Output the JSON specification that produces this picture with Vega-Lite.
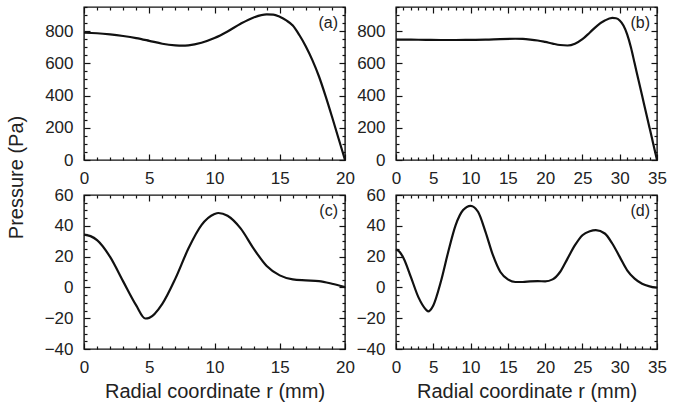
{
  "$schema": "https://vega.github.io/schema/vega-lite/v6.json",
  "background": "white",
  "padding": 5,
  "bounds": "flush",
  "columns": 2,
  "spacing": {"row": 35, "column": 51},
  "config": {
    "view": {"stroke": "#111", "strokeWidth": 1.4},
    "font": "Liberation Sans",
    "axis": {
      "domain": false, "grid": false,
      "tickColor": "#111", "tickWidth": 1.2,
      "labelFont": "Liberation Sans", "labelFontSize": 17, "labelColor": "#222",
      "labelOverlap": false, "labelFlush": false,
      "titleFont": "Liberation Sans", "titleFontSize": 20, "titleFontWeight": "normal", "titleColor": "#222"
    },
    "text": {"font": "Liberation Sans", "fontSize": 16, "color": "#222"}
  },
  "concat": [
    {
      "width": 261, "height": 153,
      "data": {"values": [
        {"r":0,"p":790},{"r":1,"p":787},{"r":2,"p":780},{"r":3,"p":770},{"r":4,"p":757},{"r":5,"p":740},{"r":6,"p":722},{"r":7,"p":712},{"r":7.5,"p":710},{"r":8,"p":712},{"r":9,"p":728},{"r":10,"p":757},{"r":11,"p":798},{"r":12,"p":846},{"r":13,"p":885},{"r":14,"p":904},{"r":14.5,"p":903},{"r":15,"p":889},{"r":15.5,"p":867},{"r":16,"p":835},{"r":16.5,"p":776},{"r":17,"p":705},{"r":17.5,"p":620},{"r":18,"p":520},{"r":18.5,"p":400},{"r":19,"p":270},{"r":19.5,"p":135},{"r":20,"p":0}
      ]},
      "layer": [
        {
          "mark": {"type": "line", "interpolate": "monotone", "color": "#111", "strokeWidth": 2.2},
          "encoding": {
            "x": {"field": "r", "type": "quantitative", "scale": {"domain": [0, 20], "nice": false},
              "axis": {"orient": "bottom", "title": null, "values": [0,5,10,15,20], "offset": -6, "tickSize": 6, "labelPadding": 10}},
            "y": {"field": "p", "type": "quantitative", "scale": {"domain": [0, 950], "nice": false},
              "axis": {"orient": "left", "title": "Pressure (Pa)", "titleY": 170, "titlePadding": 18,
                "values": [0,200,400,600,800], "offset": -6, "tickSize": 6, "labelPadding": 11}}
          }
        },
        {
          "mark": {"type": "line", "opacity": 0},
          "encoding": {
            "x": {"field": "r", "type": "quantitative",
              "axis": {"orient": "top", "title": null, "labels": false, "values": [0,5,10,15,20], "offset": -6, "tickSize": 6}},
            "y": {"field": "p", "type": "quantitative",
              "axis": {"orient": "right", "title": null, "labels": false, "values": [0,200,400,600,800], "offset": -6, "tickSize": 6}}
          }
        },
        {
          "mark": {"type": "line", "opacity": 0},
          "encoding": {
            "x": {"field": "r", "type": "quantitative",
              "axis": {"orient": "bottom", "title": null, "labels": false, "values": [1,2,3,4,6,7,8,9,11,12,13,14,16,17,18,19], "offset": -3, "tickSize": 3}},
            "y": {"field": "p", "type": "quantitative",
              "axis": {"orient": "left", "title": null, "labels": false, "values": [50,100,150,250,300,350,450,500,550,650,700,750,850,900,950], "offset": -3, "tickSize": 3}}
          }
        },
        {
          "mark": {"type": "line", "opacity": 0},
          "encoding": {
            "x": {"field": "r", "type": "quantitative",
              "axis": {"orient": "top", "title": null, "labels": false, "values": [1,2,3,4,6,7,8,9,11,12,13,14,16,17,18,19], "offset": -3, "tickSize": 3}},
            "y": {"field": "p", "type": "quantitative",
              "axis": {"orient": "right", "title": null, "labels": false, "values": [50,100,150,250,300,350,450,500,550,650,700,750,850,900,950], "offset": -3, "tickSize": 3}}
          }
        },
        {
          "data": {"values": [{}]},
          "mark": {"type": "text", "align": "right", "baseline": "top", "dx": -7, "dy": 8},
          "encoding": {"x": {"datum": 20, "type": "quantitative", "axis": null}, "y": {"datum": 950, "type": "quantitative", "axis": null}, "text": {"value": "(a)"}}
        }
      ],
      "resolve": {"axis": {"x": "independent", "y": "independent"}}
    },
    {
      "width": 261, "height": 153,
      "data": {"values": [
        {"r":0,"p":748},{"r":2,"p":747},{"r":4,"p":746},{"r":6,"p":745},{"r":8,"p":745},{"r":10,"p":746},{"r":12,"p":747},{"r":14,"p":751},{"r":16,"p":753},{"r":17,"p":752},{"r":18,"p":748},{"r":19,"p":742},{"r":20,"p":733},{"r":21,"p":723},{"r":22,"p":714},{"r":23,"p":711},{"r":24,"p":722},{"r":25,"p":750},{"r":26,"p":792},{"r":27,"p":835},{"r":28,"p":866},{"r":29,"p":882},{"r":29.5,"p":880},{"r":30,"p":866},{"r":30.5,"p":835},{"r":31,"p":780},{"r":31.5,"p":700},{"r":32,"p":600},{"r":32.5,"p":500},{"r":33,"p":400},{"r":33.5,"p":300},{"r":34,"p":200},{"r":34.5,"p":100},{"r":35,"p":0}
      ]},
      "layer": [
        {
          "mark": {"type": "line", "interpolate": "monotone", "color": "#111", "strokeWidth": 2.2},
          "encoding": {
            "x": {"field": "r", "type": "quantitative", "scale": {"domain": [0, 35], "nice": false},
              "axis": {"orient": "bottom", "title": null, "values": [0,5,10,15,20,25,30,35], "offset": -6, "tickSize": 6, "labelPadding": 10}},
            "y": {"field": "p", "type": "quantitative", "scale": {"domain": [0, 950], "nice": false},
              "axis": {"orient": "left", "title": null, "values": [0,200,400,600,800], "offset": -6, "tickSize": 6, "labelPadding": 11}}
          }
        },
        {
          "mark": {"type": "line", "opacity": 0},
          "encoding": {
            "x": {"field": "r", "type": "quantitative",
              "axis": {"orient": "top", "title": null, "labels": false, "values": [0,5,10,15,20,25,30,35], "offset": -6, "tickSize": 6}},
            "y": {"field": "p", "type": "quantitative",
              "axis": {"orient": "right", "title": null, "labels": false, "values": [0,200,400,600,800], "offset": -6, "tickSize": 6}}
          }
        },
        {
          "mark": {"type": "line", "opacity": 0},
          "encoding": {
            "x": {"field": "r", "type": "quantitative",
              "axis": {"orient": "bottom", "title": null, "labels": false, "values": [1,2,3,4,6,7,8,9,11,12,13,14,16,17,18,19,21,22,23,24,26,27,28,29,31,32,33,34], "offset": -3, "tickSize": 3}},
            "y": {"field": "p", "type": "quantitative",
              "axis": {"orient": "left", "title": null, "labels": false, "values": [50,100,150,250,300,350,450,500,550,650,700,750,850,900,950], "offset": -3, "tickSize": 3}}
          }
        },
        {
          "mark": {"type": "line", "opacity": 0},
          "encoding": {
            "x": {"field": "r", "type": "quantitative",
              "axis": {"orient": "top", "title": null, "labels": false, "values": [1,2,3,4,6,7,8,9,11,12,13,14,16,17,18,19,21,22,23,24,26,27,28,29,31,32,33,34], "offset": -3, "tickSize": 3}},
            "y": {"field": "p", "type": "quantitative",
              "axis": {"orient": "right", "title": null, "labels": false, "values": [50,100,150,250,300,350,450,500,550,650,700,750,850,900,950], "offset": -3, "tickSize": 3}}
          }
        },
        {
          "data": {"values": [{}]},
          "mark": {"type": "text", "align": "right", "baseline": "top", "dx": -7, "dy": 8},
          "encoding": {"x": {"datum": 35, "type": "quantitative", "axis": null}, "y": {"datum": 950, "type": "quantitative", "axis": null}, "text": {"value": "(b)"}}
        }
      ],
      "resolve": {"axis": {"x": "independent", "y": "independent"}}
    },
    {
      "width": 261, "height": 154,
      "data": {"values": [
        {"r":0,"p":34.3},{"r":0.5,"p":33.3},{"r":1,"p":30.7},{"r":2,"p":19.8},{"r":3,"p":3.9},{"r":4,"p":-11.7},{"r":4.7,"p":-20.2},{"r":5,"p":-19.8},{"r":6,"p":-10.7},{"r":7,"p":5.7},{"r":8,"p":25.2},{"r":9,"p":40.4},{"r":10,"p":47.6},{"r":10.3,"p":48.3},{"r":11,"p":46.5},{"r":12,"p":38.3},{"r":13,"p":25.2},{"r":14,"p":13.9},{"r":15,"p":7.8},{"r":16,"p":5.2},{"r":17,"p":4.6},{"r":18,"p":4.1},{"r":19,"p":2.4},{"r":20,"p":0.2}
      ]},
      "layer": [
        {
          "mark": {"type": "line", "interpolate": "monotone", "color": "#111", "strokeWidth": 2.2},
          "encoding": {
            "x": {"field": "r", "type": "quantitative", "scale": {"domain": [0, 20], "nice": false},
              "axis": {"orient": "bottom", "title": "Radial coordinate r (mm)", "titlePadding": 6, "values": [0,5,10,15,20], "offset": -6, "tickSize": 6, "labelPadding": 10}},
            "y": {"field": "p", "type": "quantitative", "scale": {"domain": [-40, 60], "nice": false},
              "axis": {"orient": "left", "title": null, "values": [-40,-20,0,20,40,60], "offset": -6, "tickSize": 6, "labelPadding": 11}}
          }
        },
        {
          "mark": {"type": "line", "opacity": 0},
          "encoding": {
            "x": {"field": "r", "type": "quantitative",
              "axis": {"orient": "top", "title": null, "labels": false, "values": [0,5,10,15,20], "offset": -6, "tickSize": 6}},
            "y": {"field": "p", "type": "quantitative",
              "axis": {"orient": "right", "title": null, "labels": false, "values": [-40,-20,0,20,40,60], "offset": -6, "tickSize": 6}}
          }
        },
        {
          "mark": {"type": "line", "opacity": 0},
          "encoding": {
            "x": {"field": "r", "type": "quantitative",
              "axis": {"orient": "bottom", "title": null, "labels": false, "values": [1,2,3,4,6,7,8,9,11,12,13,14,16,17,18,19], "offset": -3, "tickSize": 3}},
            "y": {"field": "p", "type": "quantitative",
              "axis": {"orient": "left", "title": null, "labels": false, "values": [-35,-30,-25,-15,-10,-5,5,10,15,25,30,35,45,50,55], "offset": -3, "tickSize": 3}}
          }
        },
        {
          "mark": {"type": "line", "opacity": 0},
          "encoding": {
            "x": {"field": "r", "type": "quantitative",
              "axis": {"orient": "top", "title": null, "labels": false, "values": [1,2,3,4,6,7,8,9,11,12,13,14,16,17,18,19], "offset": -3, "tickSize": 3}},
            "y": {"field": "p", "type": "quantitative",
              "axis": {"orient": "right", "title": null, "labels": false, "values": [-35,-30,-25,-15,-10,-5,5,10,15,25,30,35,45,50,55], "offset": -3, "tickSize": 3}}
          }
        },
        {
          "data": {"values": [{}]},
          "mark": {"type": "text", "align": "right", "baseline": "top", "dx": -7, "dy": 8},
          "encoding": {"x": {"datum": 20, "type": "quantitative", "axis": null}, "y": {"datum": 60, "type": "quantitative", "axis": null}, "text": {"value": "(c)"}}
        }
      ],
      "resolve": {"axis": {"x": "independent", "y": "independent"}}
    },
    {
      "width": 261, "height": 154,
      "data": {"values": [
        {"r":0,"p":24.8},{"r":0.5,"p":23},{"r":1,"p":19.1},{"r":2,"p":6.7},{"r":3,"p":-6.3},{"r":4,"p":-14.3},{"r":4.3,"p":-15.6},{"r":5,"p":-11.7},{"r":6,"p":3.5},{"r":7,"p":23},{"r":8,"p":40.4},{"r":9,"p":50.2},{"r":10,"p":53},{"r":11,"p":49.1},{"r":12,"p":36.1},{"r":13,"p":20.9},{"r":14,"p":10},{"r":15,"p":5.2},{"r":16,"p":3.5},{"r":17,"p":3.5},{"r":18,"p":3.9},{"r":19,"p":4.1},{"r":20,"p":3.9},{"r":21,"p":5.2},{"r":22,"p":10},{"r":23,"p":18.7},{"r":24,"p":27.4},{"r":25,"p":33.9},{"r":26,"p":36.5},{"r":26.8,"p":37.2},{"r":28,"p":35},{"r":29,"p":28.5},{"r":30,"p":19.8},{"r":31,"p":11.1},{"r":32,"p":5.7},{"r":33,"p":2.4},{"r":34,"p":0.7},{"r":35,"p":-0.2}
      ]},
      "layer": [
        {
          "mark": {"type": "line", "interpolate": "monotone", "color": "#111", "strokeWidth": 2.2},
          "encoding": {
            "x": {"field": "r", "type": "quantitative", "scale": {"domain": [0, 35], "nice": false},
              "axis": {"orient": "bottom", "title": "Radial coordinate r (mm)", "titlePadding": 6, "values": [0,5,10,15,20,25,30,35], "offset": -6, "tickSize": 6, "labelPadding": 10}},
            "y": {"field": "p", "type": "quantitative", "scale": {"domain": [-40, 60], "nice": false},
              "axis": {"orient": "left", "title": null, "values": [-40,-20,0,20,40,60], "offset": -6, "tickSize": 6, "labelPadding": 11}}
          }
        },
        {
          "mark": {"type": "line", "opacity": 0},
          "encoding": {
            "x": {"field": "r", "type": "quantitative",
              "axis": {"orient": "top", "title": null, "labels": false, "values": [0,5,10,15,20,25,30,35], "offset": -6, "tickSize": 6}},
            "y": {"field": "p", "type": "quantitative",
              "axis": {"orient": "right", "title": null, "labels": false, "values": [-40,-20,0,20,40,60], "offset": -6, "tickSize": 6}}
          }
        },
        {
          "mark": {"type": "line", "opacity": 0},
          "encoding": {
            "x": {"field": "r", "type": "quantitative",
              "axis": {"orient": "bottom", "title": null, "labels": false, "values": [1,2,3,4,6,7,8,9,11,12,13,14,16,17,18,19,21,22,23,24,26,27,28,29,31,32,33,34], "offset": -3, "tickSize": 3}},
            "y": {"field": "p", "type": "quantitative",
              "axis": {"orient": "left", "title": null, "labels": false, "values": [-35,-30,-25,-15,-10,-5,5,10,15,25,30,35,45,50,55], "offset": -3, "tickSize": 3}}
          }
        },
        {
          "mark": {"type": "line", "opacity": 0},
          "encoding": {
            "x": {"field": "r", "type": "quantitative",
              "axis": {"orient": "top", "title": null, "labels": false, "values": [1,2,3,4,6,7,8,9,11,12,13,14,16,17,18,19,21,22,23,24,26,27,28,29,31,32,33,34], "offset": -3, "tickSize": 3}},
            "y": {"field": "p", "type": "quantitative",
              "axis": {"orient": "right", "title": null, "labels": false, "values": [-35,-30,-25,-15,-10,-5,5,10,15,25,30,35,45,50,55], "offset": -3, "tickSize": 3}}
          }
        },
        {
          "data": {"values": [{}]},
          "mark": {"type": "text", "align": "right", "baseline": "top", "dx": -7, "dy": 8},
          "encoding": {"x": {"datum": 35, "type": "quantitative", "axis": null}, "y": {"datum": 60, "type": "quantitative", "axis": null}, "text": {"value": "(d)"}}
        }
      ],
      "resolve": {"axis": {"x": "independent", "y": "independent"}}
    }
  ]
}
